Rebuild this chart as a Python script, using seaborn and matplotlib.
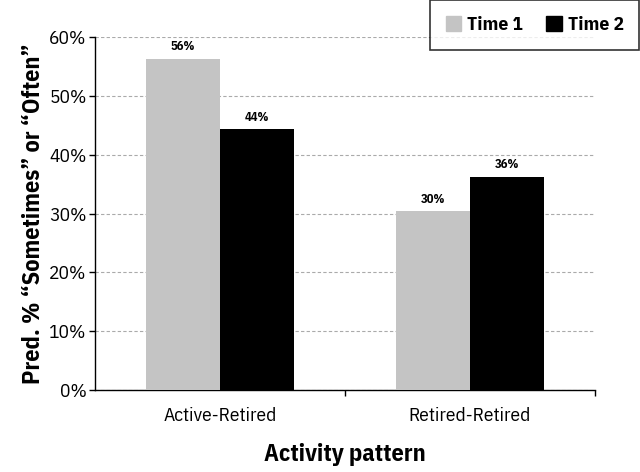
import matplotlib
matplotlib.use("Agg")
import matplotlib.pyplot as plt
import seaborn as sns
import pandas as pd
from matplotlib.ticker import PercentFormatter, FixedLocator
from matplotlib.patches import Patch

categories = ["Active-Retired", "Retired-Retired"]
series = ["Time 1", "Time 2"]
time1 = [56.3, 30.4]
time2 = [44.3, 36.2]
labels1 = ["56%", "30%"]
labels2 = ["44%", "36%"]
yticks = [0, 10, 20, 30, 40, 50, 60]

sns.set_theme(style="white")
plt.rcParams['font.family'] = ['IBM Plex Sans Condensed', 'DejaVu Sans']
plt.rcParams['text.color'] = 'black'
plt.rcParams['axes.labelcolor'] = 'black'
plt.rcParams['xtick.color'] = 'black'
plt.rcParams['ytick.color'] = 'black'

df = pd.DataFrame({
    "pattern": categories * 2,
    "time": [series[0]] * 2 + [series[1]] * 2,
    "value": time1 + time2,
})

fig = plt.figure(figsize=(6.4, 4.72), dpi=100)
ax = fig.add_axes([0.1484, 0.1737, 0.7813, 0.7479])
colors = ["#C4C4C4", "#000000"]
sns.barplot(data=df, x="pattern", y="value", hue="time", order=categories,
            hue_order=series, palette=colors, width=0.59, saturation=1,
            ax=ax, legend=False, zorder=3, linewidth=0, edgecolor="none")

for container, labs in zip(ax.containers, [labels1, labels2]):
    ax.bar_label(container, labels=labs, padding=4, fontsize=9, fontweight="bold")

ax.set_ylim(0, 60)
ax.set_xlim(-0.5, 1.5)
ax.set_yticks(yticks)
ax.yaxis.set_major_formatter(PercentFormatter(decimals=0))
ax.yaxis.grid(True, linestyle=(0, (3, 2)), color="#AAAAAA", linewidth=0.8, zorder=0)
ax.set_axisbelow(True)

ax.xaxis.set_minor_locator(FixedLocator([0.5, 1.5]))
ax.tick_params(axis="x", which="major", bottom=True, length=0, labelsize=14, pad=12)
ax.tick_params(axis="x", which="minor", bottom=True, length=4, width=1, color="black", direction="out")
ax.tick_params(axis="y", which="major", left=True, length=4, width=1, color="black", direction="out", labelsize=14, pad=2)

for s in ["top", "right"]:
    ax.spines[s].set_visible(False)
for s in ["left", "bottom"]:
    ax.spines[s].set_color("black")
    ax.spines[s].set_linewidth(1.0)

ax.set_xlabel("Activity pattern", fontsize=17.5, fontweight="bold", labelpad=13)
ax.set_ylabel("Pred. % \u201cSometimes\u201d or \u201cOften\u201d", fontsize=17.5, fontweight="bold", labelpad=3)

handles = [Patch(facecolor=c, edgecolor=c) for c in colors]
leg = fig.legend(handles, series, loc="upper right", bbox_to_anchor=(0.999, 0.999),
                 ncol=2, frameon=True, fancybox=False, edgecolor="black",
                 prop={"weight": "bold", "size": 14}, handlelength=0.8, handleheight=0.8,
                 handletextpad=0.3, columnspacing=1.2, borderpad=0.8, borderaxespad=0)
leg.get_frame().set_linewidth(1.2)

fig.savefig("out.png", dpi=100)
